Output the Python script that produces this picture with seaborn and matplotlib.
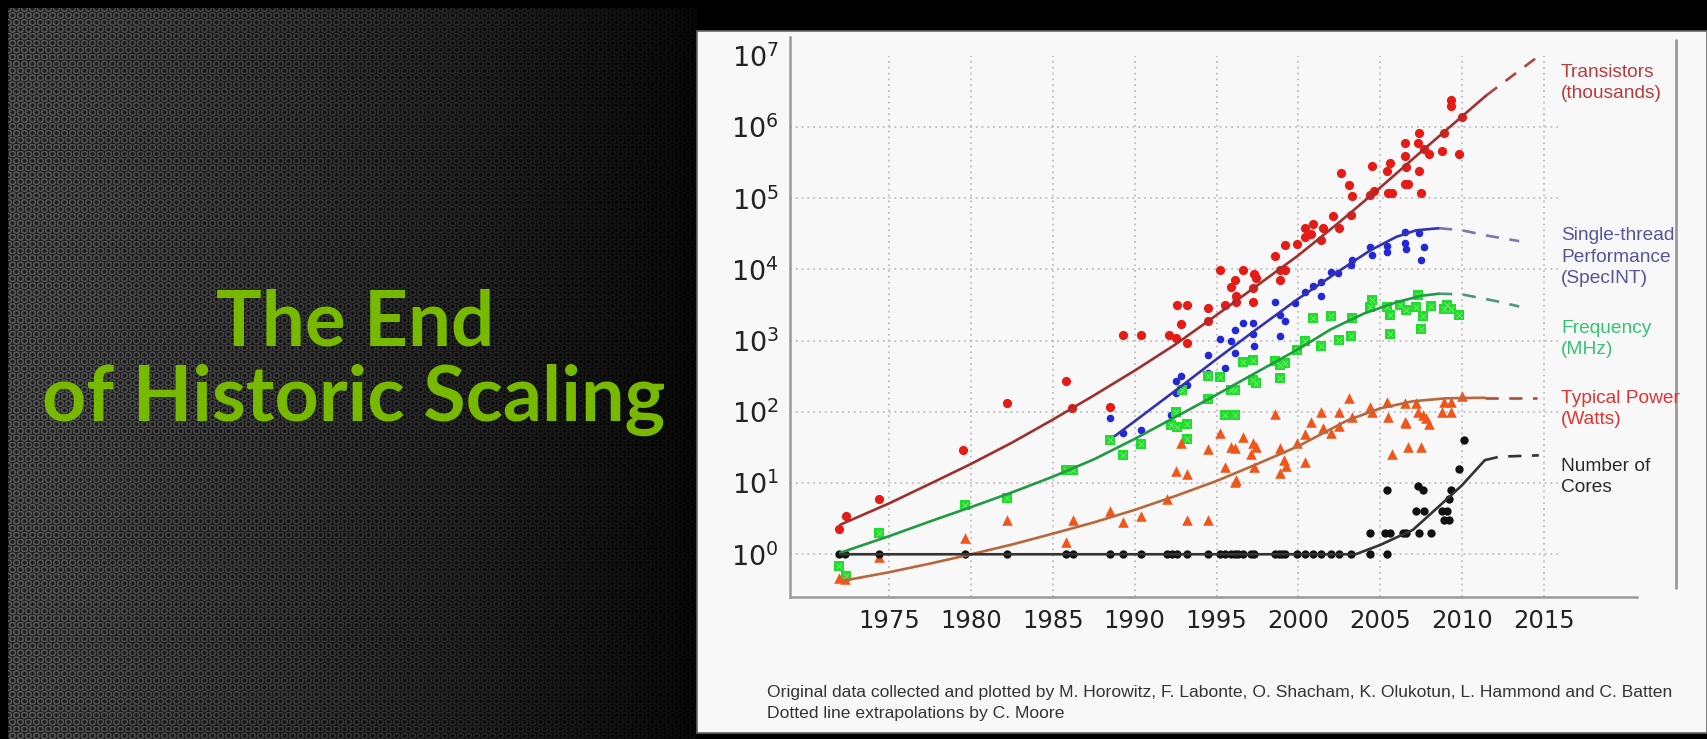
import numpy as np
import pandas as pd
import matplotlib
matplotlib.use("Agg")
import matplotlib.pyplot as plt
import matplotlib.ticker as mticker
from matplotlib.lines import Line2D
from matplotlib.patches import Rectangle
import seaborn as sns

# ---------------- data ----------------
tr_year = [1971.9, 1972.35, 1974.4, 1979.5, 1982.2, 1985.8, 1986.15, 1988.5, 1989.3, 1990.4,
           1992.1, 1992.5, 1993.2, 1992.6, 1993.2, 1992.8, 1994.5, 1994.5, 1995.2, 1995.5,
           1995.9, 1996.1, 1996.2, 1996.2, 1996.6, 1997.2, 1997.2, 1997.3, 1997.4, 1998.6,
           1998.9, 1998.9, 1999.2, 1999.2, 1999.9, 2000.4, 2000.9, 2000.4, 2000.8, 2001.4,
           2001.5, 2002.1, 2002.5, 2002.6, 2003.1, 2003.2, 2003.3, 2004.5, 2004.4, 2004.6,
           2005.4, 2005.6, 2005.5, 2005.7, 2006.5, 2006.5, 2006.6, 2006.5, 2006.7, 2007.4,
           2007.3, 2007.4, 2007.5, 2007.7, 2008.0, 2008.8, 2008.9, 2009.3, 2009.3, 2009.8,
           2010.0]
tr_val = [2.3, 3.5, 6.0, 29, 135, 275, 112, 118, 1200, 1200,
          1200, 1100, 930, 3200, 3200, 1740, 2900, 1900, 9800, 3200,
          5600, 7100, 4200, 3500, 9800, 5500, 3500, 8700, 7600, 15500,
          7100, 9800, 9800, 22000, 23000, 38000, 44000, 29000, 31000, 26000,
          38000, 56000, 38000, 224000, 155000, 59000, 107000, 288000, 112000, 126000,
          240000, 309000, 117000, 117000, 600000, 390000, 275000, 158000, 158000, 830000,
          600000, 240000, 117000, 500000, 417000, 468000, 830000, 2400000, 1950000, 417000,
          1380000]

st_year = [1988.5, 1989.3, 1990.4, 1992.2, 1992.5, 1992.5, 1992.8, 1993.2, 1994.5, 1994.5,
           1995.2, 1995.5, 1995.9, 1996.1, 1996.1, 1996.6, 1997.2, 1997.2, 1997.3, 1998.6,
           1998.9, 1998.9, 1999.2, 1999.8, 2000.4, 2000.9, 2001.4, 2001.4, 2002.0, 2002.4,
           2003.2, 2003.3, 2004.4, 2004.5, 2005.4, 2005.4, 2006.5, 2006.5, 2006.6, 2007.4,
           2007.7, 2007.5]
st_val = [83, 50, 56, 91, 182, 275, 320, 240, 355, 620,
          1050, 410, 980, 680, 1400, 1780, 1260, 1780, 850, 3550,
          1170, 2300, 1860, 3400, 4900, 5900, 6600, 4300, 9300, 8900,
          11500, 13500, 20900, 15800, 21400, 17400, 33900, 23400, 19100, 32400,
          20400, 13800]

fq_year = [1971.9, 1972.35, 1974.4, 1979.6, 1982.2, 1985.8, 1986.2, 1988.5, 1989.3, 1990.4,
           1992.2, 1992.6, 1992.5, 1992.9, 1993.2, 1993.2, 1994.5, 1994.5, 1995.2, 1995.5,
           1996.1, 1995.9, 1996.1, 1996.6, 1997.2, 1997.2, 1997.4, 1998.6, 1998.9, 1998.9,
           1999.2, 1999.9, 2000.4, 2000.9, 2001.4, 2002.0, 2002.5, 2003.2, 2003.3, 2004.4,
           2004.5, 2005.4, 2005.6, 2005.6, 2006.2, 2006.6, 2007.3, 2007.2, 2007.6, 2007.5,
           2008.1, 2008.9, 2009.1, 2009.3, 2009.8]
fq_val = [0.69, 0.49, 2.0, 4.9, 6.2, 15.5, 15.5, 40, 25, 35,
          66, 62, 100, 200, 68, 41, 316, 151, 309, 91,
          91, 204, 204, 500, 537, 282, 251, 513, 457, 295,
          479, 741, 977, 2090, 832, 2190, 1020, 1150, 2090, 3020,
          3720, 3020, 2290, 1260, 3160, 2690, 4370, 3020, 2190, 1480,
          3090, 2820, 3160, 2820, 2290]

pw_year = [1971.9, 1972.3, 1974.4, 1979.6, 1982.2, 1985.8, 1986.2, 1988.5, 1989.3, 1990.4,
           1992.0, 1992.5, 1992.8, 1993.2, 1993.2, 1994.5, 1994.5, 1995.2, 1995.5, 1995.9,
           1996.1, 1996.1, 1996.2, 1996.6, 1997.1, 1997.2, 1997.4, 1997.3, 1998.6, 1998.9,
           1998.9, 1999.1, 1999.25, 1999.9, 2000.4, 2000.4, 2000.8, 2001.4, 2001.5, 2002.0,
           2002.5, 2002.5, 2003.1, 2003.3, 2004.4, 2004.5, 2005.4, 2005.5, 2005.7, 2006.5,
           2006.5, 2006.6, 2006.7, 2007.2, 2007.3, 2007.5, 2007.6, 2007.8, 2008.0, 2008.9,
           2009.3, 2008.8, 2009.3, 2010.0]
pw_val = [0.46, 0.45, 0.93, 1.7, 3.0, 1.5, 3.0, 4.1, 2.8, 3.5,
          5.9, 15, 36, 13.5, 3.0, 30, 3.0, 51, 17, 32,
          31, 10.5, 11, 44, 26, 37, 32, 17, 93, 31,
          14, 21, 17.4, 36, 49, 20, 72, 100, 59, 50,
          63, 100, 158, 85, 117, 100, 138, 85, 26, 132,
          72, 69, 32, 132, 100, 32, 91, 81, 68, 138,
          138, 100, 100, 166]

cr_year = [1971.9, 1972.3, 1974.4, 1979.6, 1982.2, 1985.8, 1986.2, 1988.5, 1989.3, 1990.4,
           1992.0, 1992.3, 1992.6, 1993.2, 1994.5, 1995.2, 1995.5, 1995.9, 1996.1, 1996.3,
           1996.6, 1997.1, 1997.3, 1998.6, 1998.8, 1999.0, 1999.2, 1999.9, 2000.4, 2000.9,
           2001.4, 2002.0, 2002.5, 2003.2, 2004.4, 2005.4, 2004.4, 2005.3, 2005.6, 2006.4,
           2006.6, 2007.4, 2008.1, 2007.2, 2007.7, 2008.8, 2009.1, 2008.9, 2009.2, 2009.2,
           2005.4, 2007.6, 2009.3, 2007.3, 2009.8, 2010.1]
cr_val = [1, 1, 1, 1, 1, 1, 1, 1, 1, 1,
          1, 1, 1, 1, 1, 1, 1, 1, 1, 1,
          1, 1, 1, 1, 1, 1, 1, 1, 1, 1,
          1, 1, 1, 1, 1, 1, 2, 2, 2, 2,
          2, 2, 2, 4, 4, 4, 4, 3, 3, 6,
          8, 8, 8, 9, 16, 40]

# trend curves (solid) and extrapolations (dashed)
tr_fit_year = [1972.0, 1975, 1977.5, 1980, 1982.5, 1985, 1987.5, 1990, 1992.5, 1995,
               1997.5, 2000, 2002.5, 2005, 2007.5, 2010, 2011.5]
tr_fit_val = [2.6, 5.2, 9.8, 18.6, 37, 78, 170, 380, 890, 2290,
              6000, 15800, 46000, 141000, 450000, 1.41e6, 2.8e6]
tr_ext_year = [2011.5, 2014.7]
tr_ext_val = [2.8e6, 1.0e7]

st_fit_year = [1988.8, 1990, 1992.5, 1995, 1997.5, 2000, 2002.5, 2004.4, 2006, 2007.2, 2008.6]
st_fit_val = [46, 74, 200, 550, 1480, 3890, 9550, 18600, 28800, 35500, 38000]
st_ext_year = [2008.6, 2010, 2011.5, 2013.5]
st_ext_val = [38000, 35500, 30000, 25000]

fq_fit_year = [1972.0, 1975, 1977.5, 1980, 1982.5, 1985, 1987.5, 1990, 1992.5, 1995,
               1997.5, 2000, 2002, 2004, 2006, 2007.5, 2008.6]
fq_fit_val = [1.05, 1.8, 2.9, 4.6, 7.4, 12.3, 21.5, 41.7, 85, 174,
              365, 760, 1450, 2400, 3470, 4270, 4570]
fq_ext_year = [2008.6, 2010, 2012, 2013.5]
fq_ext_val = [4570, 4470, 3630, 3020]

pw_fit_year = [1972.3, 1975, 1977.5, 1980, 1982.5, 1985, 1987.5, 1990, 1992.5, 1995,
               1997.5, 2000, 2003, 2005, 2007, 2009, 2011.4]
pw_fit_val = [0.43, 0.56, 0.74, 1.0, 1.37, 1.95, 2.8, 4.2, 6.6, 10.7,
              18.6, 33, 76, 112, 141, 155, 158]
pw_ext_year = [2011.4, 2014.6]
pw_ext_val = [158, 158]

cr_fit_year = [1972.0, 2003.5, 2005, 2007, 2008.5, 2010, 2011.4]
cr_fit_val = [1, 1, 1.35, 2.2, 4.5, 9.3, 21]
cr_ext_year = [2011.4, 2012.3, 2014.7]
cr_ext_val = [21, 23.5, 24.5]

year_ticks = [1975, 1980, 1985, 1990, 1995, 2000, 2005, 2010, 2015]
decade_lines = [1e0, 1e1, 1e2, 1e3, 1e4, 1e5, 1e6]

series_labels = ["Transistors\n(thousands)", "Single-thread\nPerformance\n(SpecINT)",
                 "Frequency\n(MHz)", "Typical Power\n(Watts)", "Number of\nCores"]
title_lines = ["The End", "of Historic Scaling"]
credit_lines = ["Original data collected and plotted by M. Horowitz, F. Labonte, O. Shacham, "
                "K. Olukotun, L. Hammond and C. Batten",
                "Dotted line extrapolations by C. Moore"]

# ---------------- figure ----------------
sns.set_style("white")
plt.rcParams["font.family"] = ["DejaVu Sans"]
W, H = 1707, 739
fig = plt.figure(figsize=(W / 100, H / 100), dpi=100, facecolor="black")


def fx(px):
    return px / W


def fy(py):
    return 1 - py / H


# dark perforated-metal backdrop for the title side
bw, bh = 689, 731
yy, xx = np.mgrid[0:bh, 0:bw].astype(float)
pitch = 8.0
rowh = pitch * np.sqrt(3) / 2
row = np.round(yy / rowh)
off = (row % 2) * pitch / 2
col = np.round((xx - off) / pitch)
dist = np.hypot(xx - (col * pitch + off), yy - row * rowh)
ring = np.exp(-((dist - 2.8) / 1.0) ** 2)
fade = np.clip(1 - xx / 700, 0, 1) ** 0.9
lum = (0.12 + 0.24 * ring) * (0.08 + 0.92 * fade)
tex = np.dstack([lum, lum, lum])
bg_ax = fig.add_axes([fx(8), 0, fx(bw), bh / H], zorder=-10)
bg_ax.imshow(tex, aspect="auto", interpolation="bilinear")
bg_ax.axis("off")

fig.text(fx(355), fy(345), title_lines[0], color="#76b900", fontsize=55,
         family=["Lato", "DejaVu Sans"], weight="bold", ha="center", va="baseline")
fig.text(fx(354), fy(421), title_lines[1], color="#76b900", fontsize=55.5,
         family=["Lato", "DejaVu Sans"], weight="bold", ha="center", va="baseline")

# white slide panel
fig.add_artist(Rectangle((fx(697), fy(733)), fx(1707 - 697), (733 - 31) / H,
                         transform=fig.transFigure, facecolor="#f8f8f8",
                         edgecolor="#666666", lw=1.2, zorder=-5))

# ---------------- chart ----------------
ax = fig.add_axes([fx(790), fy(596.7), fx(1636.7 - 790), (596.7 - 36.7) / H])
ax.set_facecolor("none")
ax.set_yscale("log")
ax.set_xlim(1968.93, 2020.68)
ax.set_ylim(0.2535, 1.86e7)

grid_kw = dict(color="#b5b5b5", lw=1.1, linestyle=(0, (1.2, 2.6)), zorder=0)
ax.vlines(year_ticks, 0.2535, 1.0e7, **grid_kw)
ax.hlines(decade_lines, 1968.93, 2015.9, **grid_kw)

tr = pd.DataFrame({"year": tr_year, "value": tr_val})
st = pd.DataFrame({"year": st_year, "value": st_val})
fq = pd.DataFrame({"year": fq_year, "value": fq_val})
pw = pd.DataFrame({"year": pw_year, "value": pw_val})
cr = pd.DataFrame({"year": cr_year, "value": cr_val})

sc_kw = dict(x="year", y="value", ax=ax, linewidth=0, legend=False, zorder=3)
sns.scatterplot(data=tr, color="#e51b16", marker="o", s=44, **sc_kw)
sns.scatterplot(data=st, color="#2227d8", marker="o", s=30, **sc_kw)
sns.scatterplot(data=fq, color="#22dc2c", marker="s", s=48, **sc_kw)
sns.scatterplot(data=fq, color="#6ee873", marker="x", s=16, x="year", y="value", ax=ax,
                linewidth=0.7, legend=False, zorder=3.1)
sns.scatterplot(data=pw, color="#f0561a", marker="^", s=58, **sc_kw)
sns.scatterplot(data=cr, color="#111111", marker="o", s=36, **sc_kw)

fits = [
    (tr_fit_year, tr_fit_val, "#9e3030", tr_ext_year, tr_ext_val, "#b04444"),
    (st_fit_year, st_fit_val, "#3333b0", st_ext_year, st_ext_val, "#7a7aa8"),
    (fq_fit_year, fq_fit_val, "#219a44", fq_ext_year, fq_ext_val, "#4a9a78"),
    (pw_fit_year, pw_fit_val, "#b8683c", pw_ext_year, pw_ext_val, "#b04a3a"),
    (cr_fit_year, cr_fit_val, "#333333", cr_ext_year, cr_ext_val, "#333333"),
]
for fy_, fv_, fc, ey_, ev_, ec in fits:
    sns.lineplot(x=fy_, y=fv_, ax=ax, color=fc, lw=1.9, sort=False,
                 estimator=None, legend=False, zorder=4)
    sns.lineplot(x=ey_, y=ev_, ax=ax, color=ec, lw=1.9, sort=False,
                 estimator=None, legend=False, zorder=4, linestyle=(0, (5, 4)))

ax.set_xticks(year_ticks)
ax.xaxis.set_minor_locator(mticker.NullLocator())
ax.yaxis.set_major_locator(mticker.LogLocator(base=10, numticks=12))
ax.yaxis.set_minor_locator(mticker.LogLocator(base=10, subs=np.arange(2, 10), numticks=12))
ax.tick_params(axis="x", which="major", direction="in", length=5, width=1,
               color="#999999", labelsize=17.5, labelcolor="#222222", pad=9)
ax.tick_params(axis="y", which="major", direction="in", length=7, width=1,
               color="#999999", labelsize=19.5, labelcolor="#222222", pad=8)
ax.tick_params(axis="y", which="minor", direction="in", length=3.5, width=0.8,
               color="#aaaaaa")
ax.set_xlabel("")
ax.set_ylabel("")
for side in ("top", "right"):
    ax.spines[side].set_visible(False)
for side in ("left", "bottom"):
    ax.spines[side].set_color("#9a9a9a")
    ax.spines[side].set_linewidth(1.8)

# series captions at the right edge
label_colors = ["#b83c3c", "#55559a", "#33c474", "#e03434", "#2a2a2a"]
label_centers = [83, 257, 339, 409, 477]
for txt, c, yc in zip(series_labels, label_colors, label_centers):
    fig.text(fx(1561), fy(yc), txt, color=c, fontsize=13.8,
             family=["Liberation Sans", "DejaVu Sans"], ha="left", va="center",
             linespacing=1.38)

# frame line at the right of the inset
fig.add_artist(Line2D([fx(1676), fx(1676)], [fy(40), fy(588)], color="#9a9a9a",
                      lw=2, transform=fig.transFigure))

# credits
fig.text(fx(767), fy(697), credit_lines[0], color="#333333", fontsize=12.6,
         family=["Liberation Sans", "DejaVu Sans"], ha="left", va="baseline")
fig.text(fx(767), fy(718), credit_lines[1], color="#333333", fontsize=12.6,
         family=["Liberation Sans", "DejaVu Sans"], ha="left", va="baseline")

fig.savefig("out.png", dpi=100, facecolor="black")
